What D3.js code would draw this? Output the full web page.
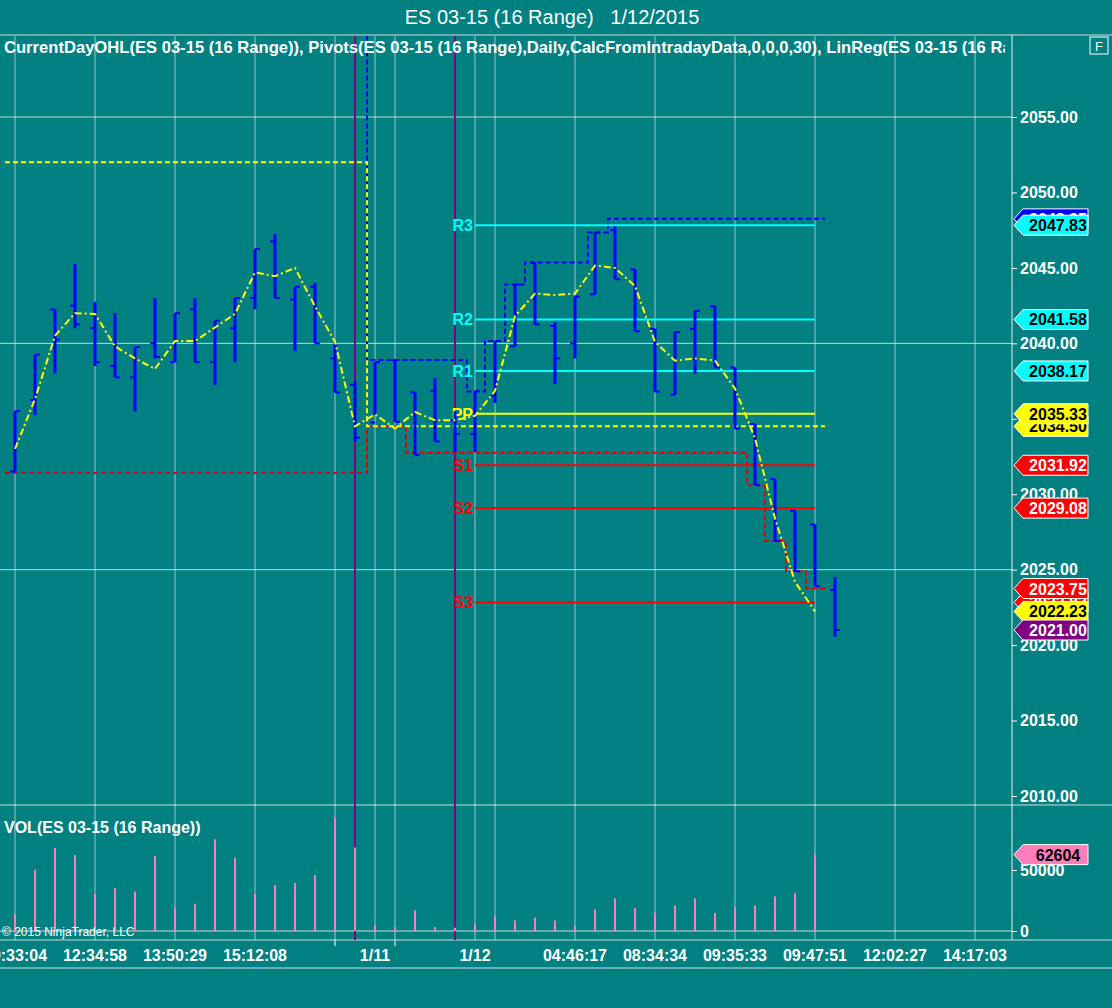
<!DOCTYPE html>
<html><head><meta charset="utf-8">
<script src="https://cdn.jsdelivr.net/npm/d3@7"></script>
<style>body{margin:0;background:#008080;}svg{display:block;font-family:Arial,"Liberation Sans",sans-serif;}</style>
</head><body><svg id="c" width="1112" height="1008"></svg>
<script>
// OHLC per bar (index 0..41)
const opens  = [2031.5,2036.25,2042.25,2042.5,2041.0,2038.5,2037.75,2040.0,2038.75,2042.25,2038.75,2041.0,2043.0,2046.75,2042.9,2043.75,2039.0,2037.25,2034.75,2038.9,2036.75,2036.85,2034.9,2034.0,2036.5,2039.8,2045.35,2041.15,2040.0,2043.25,2047.5,2044.9,2040.95,2036.6,2040.95,2042.45,2038.4,2034.65,2031.0,2028.9,2028.0,2023.65];
const highs  = [2035.5,2039.25,2042.25,2045.25,2042.75,2042.0,2039.75,2043.0,2042.0,2043.0,2041.5,2043.0,2046.25,2047.25,2043.75,2044.0,2040.0,2037.5,2038.75,2038.9,2036.75,2037.7,2035.5,2036.85,2040.15,2043.9,2045.35,2041.4,2043.1,2047.35,2047.75,2044.9,2040.95,2040.75,2042.15,2042.45,2038.4,2034.65,2031.0,2028.9,2028.0,2024.5];
const lows   = [2031.5,2035.25,2038.0,2041.0,2038.5,2037.75,2035.5,2039.0,2038.75,2038.75,2037.25,2038.75,2042.25,2043.0,2039.5,2040.0,2036.75,2033.5,2035.25,2034.8,2032.6,2033.5,2032.8,2032.8,2036.05,2039.8,2041.25,2037.3,2039.0,2043.25,2044.25,2040.8,2036.8,2036.6,2038.0,2038.4,2034.35,2030.6,2026.9,2024.9,2023.9,2020.55];
const closes = [2035.5,2039.25,2040.25,2041.25,2038.75,2037.75,2039.75,2039.1,2042.0,2038.75,2041.5,2043.0,2046.25,2043.0,2043.75,2040.0,2036.75,2033.75,2038.75,2034.8,2032.6,2033.5,2034.0,2036.85,2040.15,2043.9,2041.25,2039.0,2043.1,2047.35,2044.25,2040.8,2036.8,2040.75,2042.15,2038.4,2034.35,2030.6,2026.9,2024.9,2023.9,2021.0];
const linreg = [2033.0,2036.3,2040.5,2042.0,2041.95,2039.8,2039.0,2038.3,2040.15,2040.15,2041.05,2041.95,2044.7,2044.45,2045.0,2042.45,2040.1,2034.5,2035.3,2034.35,2035.45,2034.9,2034.9,2035.2,2036.85,2041.8,2043.3,2043.2,2043.3,2045.15,2045.0,2043.8,2040.1,2038.85,2039.0,2038.85,2037.0,2033.7,2028.4,2024.2,2022.23];
const volumes = [14100,50300,68000,62200,30400,35300,32400,61400,19300,22300,75300,60100,30400,37800,39400,45900,93000,68500,4600,3300,16900,3300,2700,5400,12000,8700,10900,8700,3800,17700,26900,18800,14700,21000,26900,14700,19600,21000,28300,31000,62604];
// step lines [startIndex, endIndex, value]
const highSteps = [[17.6,22.6,2038.9],[22.6,23.5,2036.8],[23.5,24.5,2040.15],[24.5,25.5,2043.9],[25.5,28.65,2045.35],[28.65,29.65,2047.35],[29.65,40.5,2048.25]];
const lowSteps  = [[-0.5,17.6,2031.4],[17.6,19.55,2034.5],[19.55,36.6,2032.75],[36.6,37.5,2030.6],[37.5,38.55,2026.9],[38.55,39.55,2024.9],[39.55,40.5,2023.75]];
const openSteps = [[-0.5,17.6,2052.0],[17.6,40.5,2034.5]];
const pivotNames = ["R3","R2","R1","PP","S1","S2","S3"];
const pivotValues = [2047.83,2041.58,2038.17,2035.33,2031.92,2029.08,2022.83];
const pivotColors = ["#00ffff","#00ffff","#00ffff","#ffff00","#ff0000","#ff0000","#ff0000"];
const priceTicks = [2055,2050,2045,2040,2035,2030,2025,2020,2015,2010];
const gridIdx = [0,4,8,12,16,18,19,23,24,28,32,36,40,44,48];
const timeLabels = ["10:33:04","12:34:58","13:50:29","15:12:08","1/11","1/12","04:46:17","08:34:34","09:35:33","09:47:51","12:02:27","14:17:03"];
const timeIdx = [0,4,8,12,18,23,28,32,36,40,44,48];
const sessionIdx = [17,22];
const tags = [[2048.25,"#0000ff","#fff"],[2047.83,"#00ffff","#000"],[2041.58,"#00ffff","#000"],[2038.17,"#00ffff","#000"],[2034.50,"#ffff00","#000"],[2035.33,"#ffff00","#000"],[2031.92,"#ff0000","#fff"],[2029.08,"#ff0000","#fff"],[2022.83,"#ff0000","#fff"],[2023.75,"#ff0000","#fff"],[2022.23,"#ffff00","#000"],[2021.00,"#800080","#fff"]];

const svg = d3.select("#c");
const x = d3.scaleLinear().domain([0,41]).range([15,835]);
const y = d3.scaleLinear().domain([2010,2055]).range([796,117]);
const yv = d3.scaleLinear().domain([0,50000]).range([931,870]);
const AX = 1012;

svg.append("rect").attr("width",1112).attr("height",1008).attr("fill","#008080");
svg.append("clipPath").attr("id","pc").append("rect").attr("x",0).attr("y",36).attr("width",AX).attr("height",768);
svg.append("clipPath").attr("id","vc").append("rect").attr("x",0).attr("y",806).attr("width",AX).attr("height",134);

const g = svg.append("g");
gridIdx.forEach(i=>{
  g.append("line").attr("x1",x(i)).attr("x2",x(i)).attr("y1",36).attr("y2",940).attr("stroke","#c8d8d8").attr("stroke-width",1).attr("opacity",0.8);
});
[2055,2040,2025].forEach(p=>g.append("line").attr("x1",0).attr("x2",AX).attr("y1",y(p)).attr("y2",y(p)).attr("stroke","#c8d8d8"));
g.append("line").attr("x1",0).attr("x2",1112).attr("y1",805).attr("y2",805).attr("stroke","#d0dcdc");
g.append("line").attr("x1",0).attr("x2",AX).attr("y1",yv(0)).attr("y2",yv(0)).attr("stroke","#d0dcdc");
g.append("line").attr("x1",0).attr("x2",1112).attr("y1",940).attr("y2",940).attr("stroke","#d0dcdc");
g.append("line").attr("x1",0).attr("x2",1112).attr("y1",35).attr("y2",35).attr("stroke","#d0dcdc");
g.append("line").attr("x1",AX).attr("x2",AX).attr("y1",35).attr("y2",940).attr("stroke","#e8f0f0");
g.append("line").attr("x1",0).attr("x2",1112).attr("y1",968).attr("y2",968).attr("stroke","#d0dcdc");

sessionIdx.forEach(i=>svg.append("line").attr("x1",x(i)).attr("x2",x(i)).attr("y1",36).attr("y2",940).attr("stroke","#800080").attr("stroke-width",2));

const ay = d3.axisRight(y).tickValues(priceTicks).tickFormat(d3.format(".2f")).tickSize(5);
const gy = svg.append("g").attr("transform",`translate(${AX},0)`).call(ay);
gy.select(".domain").remove();
gy.selectAll("line").attr("stroke","#fff");
gy.selectAll("text").attr("fill","#fff").attr("font-size",16).attr("font-weight","bold").attr("x",8);
const av = d3.axisRight(yv).tickValues([0,50000]).tickFormat(d3.format("d")).tickSize(5);
const gv = svg.append("g").attr("transform",`translate(${AX},0)`).call(av);
gv.select(".domain").remove();
gv.selectAll("line").attr("stroke","#fff");
gv.selectAll("text").attr("fill","#fff").attr("font-size",16).attr("font-weight","bold").attr("x",8);

const gt = svg.append("g");
timeIdx.forEach((i,k)=>gt.append("text").attr("x",x(i)).attr("y",961).attr("text-anchor","middle").attr("fill","#fff").attr("font-size",16).attr("font-weight","bold").text(timeLabels[k]));
[16,19].forEach(i=>gt.append("line").attr("x1",x(i)).attr("x2",x(i)).attr("y1",940).attr("y2",946).attr("stroke","#fff"));

const pp = svg.append("g").attr("clip-path","url(#pc)");
function stepPts(s){const pts=[];s.forEach(d=>{pts.push([d[0],d[2]]);pts.push([d[1],d[2]]);});return pts;}
const ln = d3.line().x(d=>x(d[0])).y(d=>y(d[1]));
pp.append("path").attr("d",ln([[17.6,2062]].concat(stepPts(highSteps)))).attr("fill","none").attr("stroke","#0000ff").attr("stroke-width",2).attr("stroke-dasharray","5,3");
pp.append("path").attr("d",ln(stepPts(lowSteps))).attr("fill","none").attr("stroke","#e00000").attr("stroke-width",2).attr("stroke-dasharray","5,3");
pp.append("path").attr("d",ln(stepPts(openSteps))).attr("fill","none").attr("stroke","#ffff00").attr("stroke-width",2).attr("stroke-dasharray","5,3");
pivotValues.forEach((v,k)=>{
  pp.append("line").attr("x1",x(23)).attr("x2",x(40)).attr("y1",y(v)).attr("y2",y(v)).attr("stroke",pivotColors[k]).attr("stroke-width",2);
  pp.append("text").attr("x",x(23)-2).attr("y",y(v)+6).attr("text-anchor","end").attr("fill",pivotColors[k]).attr("font-size",16).attr("font-weight","bold").text(pivotNames[k]);
});
opens.forEach((o,i)=>{
  const xi=x(i);
  pp.append("line").attr("x1",xi).attr("x2",xi).attr("y1",y(highs[i])).attr("y2",y(lows[i])).attr("stroke","#0000ff").attr("stroke-width",3);
  pp.append("line").attr("x1",xi-5).attr("x2",xi).attr("y1",y(o)).attr("y2",y(o)).attr("stroke","#0000ff").attr("stroke-width",2);
  pp.append("line").attr("x1",xi).attr("x2",xi+5).attr("y1",y(closes[i])).attr("y2",y(closes[i])).attr("stroke","#0000ff").attr("stroke-width",2);
});
const lr = d3.line().x((d,i)=>x(i)).y(d=>y(d));
pp.append("path").attr("d",lr(linreg)).attr("fill","none").attr("stroke","#ffff00").attr("stroke-width",2).attr("stroke-dasharray","7,3,2,3");

const vp = svg.append("g").attr("clip-path","url(#vc)");
volumes.forEach((v,i)=>vp.append("line").attr("x1",x(i)).attr("x2",x(i)).attr("y1",yv(0)).attr("y2",yv(v)).attr("stroke","#ff7eb9").attr("stroke-width",2));

function tag(fill,tc,yy,txt){
  const t=svg.append("g").attr("transform",`translate(1014,${yy})`);
  t.append("path").attr("d","M0,0 L9,-10 L74,-10 L74,10 L9,10 Z").attr("fill",fill).attr("stroke","#fff").attr("stroke-width",1);
  t.append("text").attr("x",44).attr("y",6).attr("text-anchor","middle").attr("fill",tc).attr("font-size",16).attr("font-weight","bold").text(txt);
}
tags.forEach(d=>tag(d[1],d[2],y(d[0]),d3.format(".2f")(d[0])));
tag("#ff7eb9","#000",yv(62604),"62604");

svg.append("text").attr("x",552).attr("y",24).attr("text-anchor","middle").attr("fill","#fff").attr("font-size",20).attr("xml:space","preserve").text("ES 03-15 (16 Range)   1/12/2015");
svg.append("clipPath").attr("id","tc").append("rect").attr("x",0).attr("y",36).attr("width",1005).attr("height",30);
svg.append("text").attr("clip-path","url(#tc)").attr("x",4).attr("y",53).attr("fill","#fff").attr("font-size",16.6).attr("font-weight","bold").text("CurrentDayOHL(ES 03-15 (16 Range)), Pivots(ES 03-15 (16 Range),Daily,CalcFromIntradayData,0,0,0,30), LinReg(ES 03-15 (16 Range),14)");
svg.append("rect").attr("x",1090).attr("y",37).attr("width",18).attr("height",17).attr("fill","none").attr("stroke","#fff");
svg.append("text").attr("x",1099).attr("y",51).attr("text-anchor","middle").attr("fill","#fff").attr("font-size",13).text("F");
svg.append("text").attr("x",4).attr("y",833).attr("fill","#fff").attr("font-size",16).attr("font-weight","bold").text("VOL(ES 03-15 (16 Range))");
svg.append("text").attr("x",2).attr("y",936).attr("fill","#fff").attr("font-size",12).text("© 2015 NinjaTrader, LLC");
</script></body></html>
